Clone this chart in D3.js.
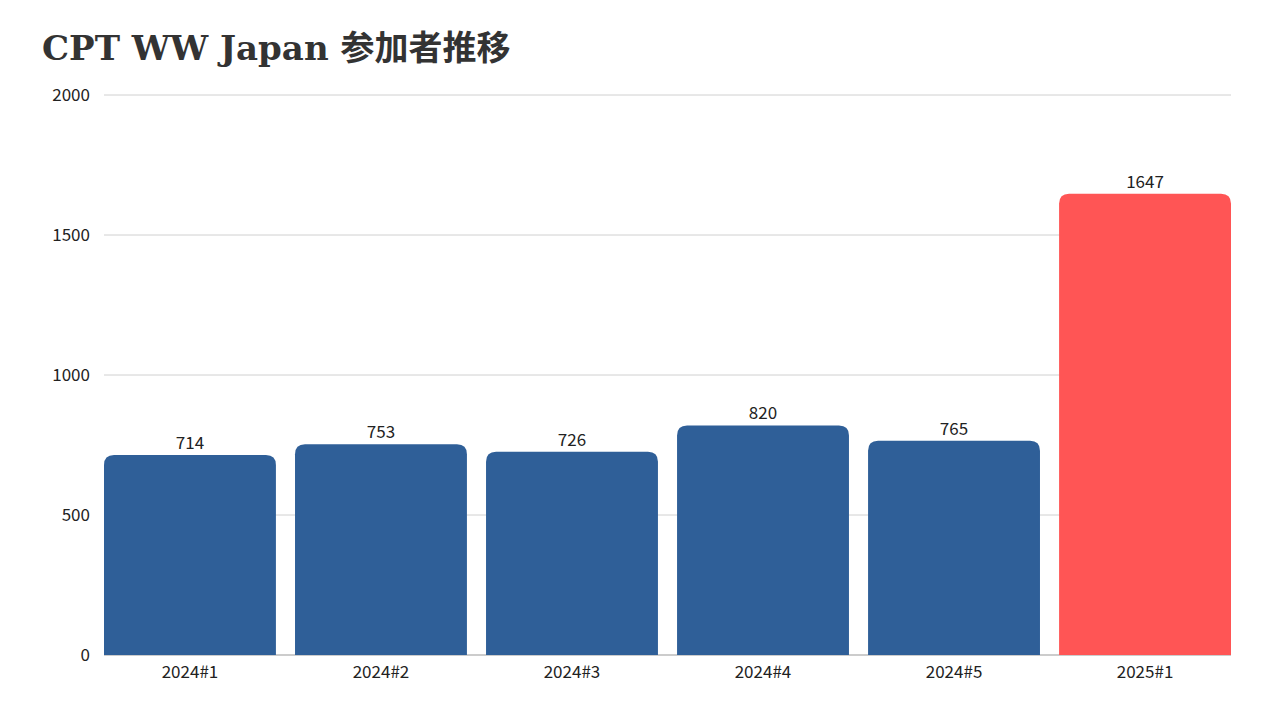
<!DOCTYPE html>
<html><head><meta charset="utf-8">
<script src="https://cdn.jsdelivr.net/npm/d3@7"></script>
<style>body{margin:0;background:#fff}</style></head>
<body><svg id="c" width="1280" height="720"></svg>
<script>
const categories=["2024#1","2024#2","2024#3","2024#4","2024#5","2025#1"];
const values=[714,753,726,820,765,1647];
const colors=["#2f5f98","#2f5f98","#2f5f98","#2f5f98","#2f5f98","#ff5555"];
const yTicks=[0,500,1000,1500,2000];
const svg=d3.select("#c");
const L=104,R=1231,T=95,B=655;
const x=d3.scaleBand().domain(categories).range([L,R]).paddingInner(0.1).paddingOuter(0);
const y=d3.scaleLinear().domain([0,2000]).range([B,T]);
const font="'Noto Sans CJK JP','Noto Sans',sans-serif";
svg.append("text").attr("x",42).attr("y",60).text("CPT WW Japan 参加者推移")
 .attr("font-family","'DejaVu Serif','Noto Sans CJK JP',serif").attr("font-weight",700).attr("font-size",34).attr("fill","#333");
const g=svg.append("g");
yTicks.forEach(t=>{
 g.append("line").attr("x1",L).attr("x2",R).attr("y1",y(t)).attr("y2",y(t)).attr("stroke",t===0?"#999":"#d0d0d0").attr("stroke-width",1);
 g.append("text").attr("x",90).attr("y",y(t)).attr("dy","0.35em").attr("text-anchor","end").text(t)
  .attr("font-family",font).attr("font-size",17).attr("fill","#222");
});
const r=10;
values.forEach((v,i)=>{
 const x0=x(categories[i]),w=x.bandwidth(),y0=y(v);
 const p=`M${x0},${B}V${y0+r}Q${x0},${y0} ${x0+r},${y0}H${x0+w-r}Q${x0+w},${y0} ${x0+w},${y0+r}V${B}Z`;
 g.append("path").attr("d",p).attr("fill",colors[i]);
 g.append("text").attr("x",x0+w/2).attr("y",y0-6).attr("text-anchor","middle").text(v)
  .attr("font-family",font).attr("font-size",17).attr("fill","#222");
 g.append("text").attr("x",x0+w/2).attr("y",678).attr("text-anchor","middle").text(categories[i])
  .attr("font-family",font).attr("font-size",17).attr("fill","#222");
});
</script></body></html>
